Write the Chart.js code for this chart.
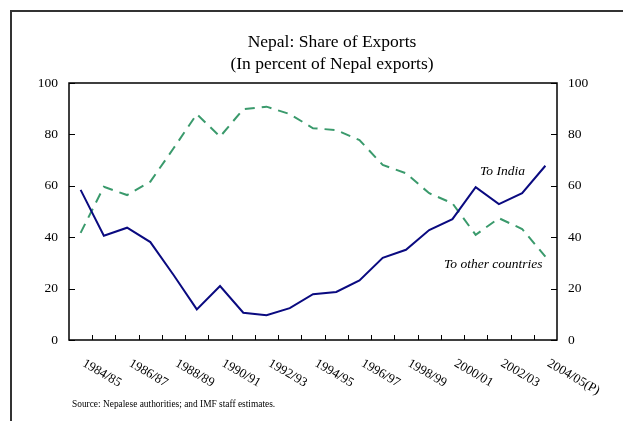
<!DOCTYPE html>
<html>
<head>
<meta charset="utf-8">
<script src="https://cdn.jsdelivr.net/npm/chart.js@4/dist/chart.umd.min.js"></script>
<style>
  html, body { margin: 0; padding: 0; background: #fff; }
  #wrap { width: 623px; height: 421px; }
</style>
</head>
<body>
<div id="wrap"><canvas id="nepal-exports" width="623" height="421"></canvas></div>
<script>
// === Datos del gráfico ===
const years = ['1984/85', '1985/86', '1986/87', '1987/88', '1988/89', '1989/90', '1990/91',
    '1991/92', '1992/93', '1993/94', '1994/95', '1995/96', '1996/97', '1997/98', '1998/99',
    '1999/00', '2000/01', '2001/02', '2002/03', '2003/04', '2004/05(P)'];
const toIndia = [58.4, 40.6, 43.7, 38.1, 25.3, 11.9, 21.0, 10.6, 9.6, 12.4, 17.8,
    18.7, 23.2, 32.0, 35.1, 42.8, 47.0, 59.5, 52.9, 57.1, 67.8];
const toOther = [41.7, 59.6, 56.4, 61.6, 74.6, 87.9, 79.1, 89.8, 90.8, 87.9, 82.4,
    81.7, 77.8, 68.1, 64.9, 57.1, 53.2, 40.9, 47.4, 43.2, 32.4];
const yTicks = [0, 20, 40, 60, 80, 100];

const serif = '"Liberation Serif", "Times New Roman", serif';

// Marco, títulos, marcas y etiquetas giradas
const decorations = {
    id: 'decorations',
    beforeDraw(chart) {
        const c = chart.ctx;
        c.save();
        c.fillStyle = '#fff';
        c.fillRect(0, 0, chart.width, chart.height);
        c.strokeStyle = '#333';
        c.lineWidth = 2;
        c.beginPath();
        c.moveTo(11, 421);
        c.lineTo(11, 11);
        c.lineTo(623, 11);
        c.stroke();

        c.fillStyle = '#000';
        c.textAlign = 'center';
        c.textBaseline = 'alphabetic';
        c.font = '17.5px ' + serif;
        c.fillText('Nepal: Share of Exports', 332, 47);
        c.fillText('(In percent of Nepal exports)', 332, 69);
        c.restore();
    },
    afterDraw(chart) {
        const c = chart.ctx;
        const a = chart.chartArea;
        const xs = chart.scales.x;
        const ys = chart.scales.y;
        c.save();
        // caja del área
        c.strokeStyle = '#000';
        c.lineWidth = 1.5;
        c.strokeRect(a.left, a.top, a.right - a.left, a.bottom - a.top);
        c.lineWidth = 1;
        c.beginPath();
        // marcas hacia dentro en y
        yTicks.forEach(function(v) {
            const py = Math.round(ys.getPixelForValue(v)) + 0.5;
            c.moveTo(a.left, py); c.lineTo(a.left + 6, py);
            c.moveTo(a.right, py); c.lineTo(a.right - 6, py);
        });
        // marcas entre categorías en x
        for (let i = 1; i < years.length; i++) {
            const px = Math.round((xs.getPixelForValue(i - 1) + xs.getPixelForValue(i)) / 2) + 0.5;
            c.moveTo(px, a.bottom); c.lineTo(px, a.bottom - 5);
        }
        c.stroke();

        // etiquetas del eje x giradas
        c.fillStyle = '#000';
        c.font = '13px ' + serif;
        c.textAlign = 'left';
        c.textBaseline = 'top';
        years.forEach(function(lbl, i) {
            if (i % 2) return;
            c.save();
            c.translate(xs.getPixelForValue(i) + 6, a.bottom + 17);
            c.rotate(Math.PI / 6);
            c.fillText(lbl, 0, 0);
            c.restore();
        });

        // anotaciones
        c.font = 'italic 13.5px ' + serif;
        c.textBaseline = 'alphabetic';
        c.fillText('To India', 480, 175);
        c.fillText('To other countries', 444, 268);

        c.font = '9.4px ' + serif;
        c.fillText('Source: Nepalese authorities; and IMF staff estimates.', 72, 407);
        c.restore();
    }
};

const ctx = document.getElementById('nepal-exports').getContext('2d');
new Chart(ctx, {
    type: 'line',
    data: {
        labels: years,
        datasets: [{
            label: 'To India',
            data: toIndia,
            borderColor: '#0a0a80',
            borderWidth: 2,
            pointRadius: 0,
            tension: 0,
            yAxisID: 'y'
        }, {
            label: 'To other countries',
            data: toOther,
            borderColor: '#3a9a6c',
            borderWidth: 2,
            borderDash: [10, 7],
            pointRadius: 0,
            tension: 0,
            yAxisID: 'y'
        }]
    },
    options: {
        responsive: false,
        animation: false,
        events: [],
        layout: { padding: { top: 83, left: 0, right: 0, bottom: 0 } },
        plugins: {
            legend: { display: false },
            title: { display: false },
            tooltip: { enabled: false }
        },
        scales: {
            x: {
                offset: true,
                grid: { display: false, drawTicks: false },
                border: { display: false },
                ticks: { display: false },
                afterFit: function(s) { s.height = 81; }
            },
            y: {
                position: 'left',
                min: 0, max: 100,
                grid: { display: false, drawTicks: false },
                border: { display: false },
                afterBuildTicks: function(s) { s.ticks = yTicks.map(v => ({ value: v })); },
                ticks: { color: '#000', padding: 11, font: { family: serif, size: 13.5 } },
                afterFit: function(s) { s.width = 69; }
            },
            y2: {
                position: 'right',
                min: 0, max: 100,
                grid: { display: false, drawTicks: false },
                border: { display: false },
                afterBuildTicks: function(s) { s.ticks = yTicks.map(v => ({ value: v })); },
                ticks: { color: '#000', padding: 11, font: { family: serif, size: 13.5 } },
                afterFit: function(s) { s.width = 66; }
            }
        }
    },
    plugins: [decorations]
});
</script>
</body>
</html>
